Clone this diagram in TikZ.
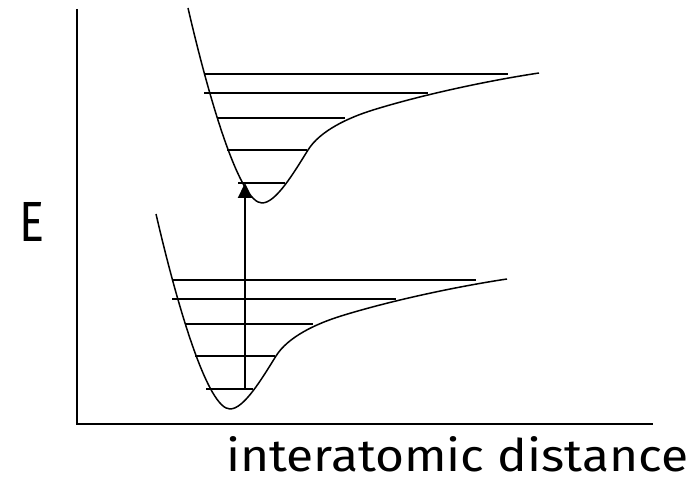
\documentclass[tikz,border=0pt]{standalone}
\usepackage{fontspec}
\setmainfont{Fira Sans}
\usetikzlibrary{arrows.meta}
\tikzset{
  axisline/.style={line width=2.2pt, black},
  wellcurve/.style={line width=1.5pt, black, line join=round},
  levelline/.style={line width=2pt, black},
  transition/.style={line width=2.3pt, -{Triangle[length=15pt,width=14pt]}},
}
\newcommand{\mywell}{%
  \draw[wellcurve] (-74,-195) .. controls (-52,-100) and (-22,0) .. (0,0)
    .. controls (14,0) and (32,-30.6) .. (46,-53)
    .. controls (58,-72.2) and (86,-85.2) .. (111,-93)
    .. controls (161,-108.5) and (227,-122.5) .. (277,-130);
  \draw[levelline] (-58,-129) -- (246,-129);
  \draw[levelline] (-58,-110) -- (166,-110);
  \draw[levelline] (-44,-85) -- (83,-85);
  \draw[levelline] (-35,-53) -- (45,-53);
  \draw[levelline] (-24,-20) -- (23,-20);
}
\begin{document}
\begin{tikzpicture}[x=1pt,y=-1pt]
  \useasboundingbox (0,0) rectangle (698,478);
  % axes
  \coordinate (ytop) at (77,9);
  \coordinate (origin) at (77,424);
  \coordinate (xend) at (653,424);
  \draw[axisline] (ytop) -- (origin) -- (xend);
  % upper well
  \begin{scope}[shift={(262,203)}]
    \mywell
  \end{scope}
  % lower well
  \begin{scope}[shift={(230,409)}]
    \mywell
  \end{scope}
  % transition arrow
  \coordinate (lowlevel) at (245,389);
  \coordinate (highlevel) at (245,183);
  \draw[transition] (lowlevel) -- (highlevel);
  % labels
  \node[anchor=base west, inner sep=0pt] (elabel) at (19,242) {\resizebox{25pt}{39pt}{E}};
  \node[anchor=base west, inner sep=0pt] (xlabel) at (226,471) {\resizebox{462pt}{35pt}{interatomic distance}};
\end{tikzpicture}
\end{document}
